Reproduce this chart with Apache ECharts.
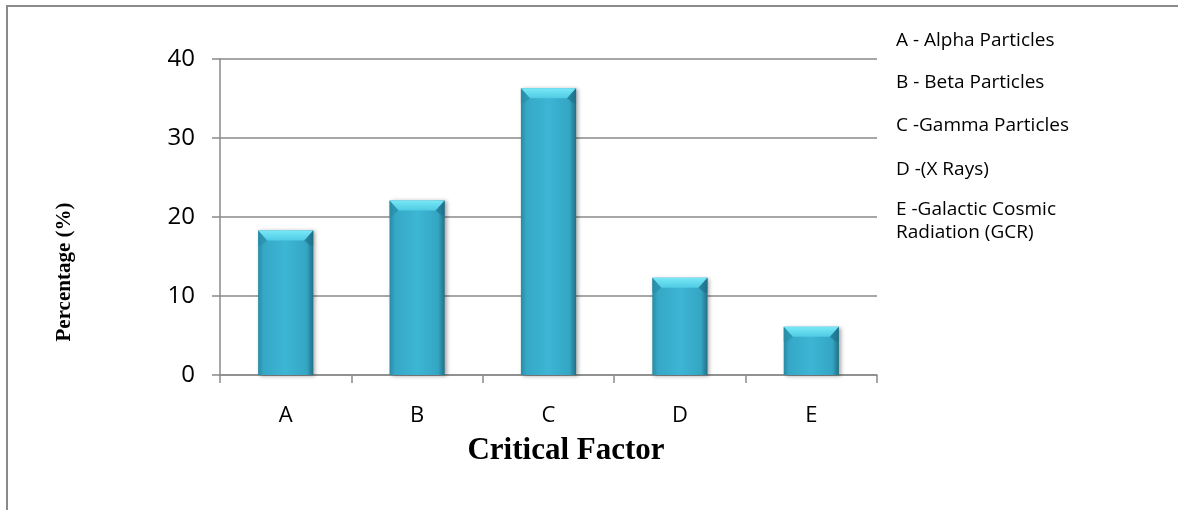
<!DOCTYPE html>
<html>
<head>
<meta charset="utf-8">
<script src="https://cdn.jsdelivr.net/npm/echarts@6/dist/echarts.min.js"></script>
<style>html,body{margin:0;padding:0;background:#fff}#c{width:1178px;height:510px}</style>
</head>
<body>
<div id="c"></div>
<script>
var categories = ['A', 'B', 'C', 'D', 'E'];
var values = [18.3, 22.1, 36.3, 12.3, 6.1];
var yTicks = [0, 10, 20, 30, 40];
var legendLines = ['A - Alpha Particles', 'B - Beta Particles', 'C -Gamma Particles', 'D -(X Rays)', 'E -Galactic Cosmic', 'Radiation (GCR)'];
var legendY = [41, 83, 126, 170, 210, 233];
var xTitle = 'Critical Factor';
var yTitle = 'Percentage (%)';

var chart = echarts.init(document.getElementById('c'), null, {renderer: 'canvas'});
var gray = '#8a8a8a';
var barFill = new echarts.graphic.LinearGradient(0, 0, 1, 0, [
  {offset: 0, color: '#2a8aa4'},
  {offset: 0.1, color: '#35a8c6'},
  {offset: 0.5, color: '#3db5d4'},
  {offset: 0.88, color: '#34a6c4'},
  {offset: 1, color: '#226f86'}
]);

var graphics = [
  {type: 'rect', shape: {x: 7, y: 6, width: 1400, height: 800}, style: {fill: 'none', stroke: gray, lineWidth: 2}, silent: true},
  {type: 'text', x: 65, y: 272, rotation: Math.PI / 2, style: {text: yTitle, font: 'bold 21px "Liberation Serif"', fill: '#000', textAlign: 'center', textVerticalAlign: 'middle'}},
  {type: 'text', x: 566, y: 451, style: {text: xTitle, font: 'bold 31px "Liberation Serif"', fill: '#000', textAlign: 'center', textVerticalAlign: 'middle'}}
];
legendLines.forEach(function (t, i) {
  graphics.push({type: 'text', x: 896, y: legendY[i], style: {text: t, font: '19px "Open Sans"', fill: '#000', textAlign: 'left', textVerticalAlign: 'middle'}});
});

chart.setOption({
  animation: false,
  grid: {left: 220, right: 301, top: 59, bottom: 135},
  graphic: graphics,
  xAxis: {
    type: 'category',
    data: categories,
    axisLine: {lineStyle: {color: gray, width: 1.5}},
    axisTick: {show: true, length: 8, lineStyle: {color: gray, width: 1.5}},
    axisLabel: {color: '#000', fontFamily: 'Open Sans', fontSize: 22, margin: 30}
  },
  yAxis: {
    type: 'value',
    min: yTicks[0],
    max: yTicks[yTicks.length - 1],
    interval: 10,
    axisLine: {show: true, lineStyle: {color: gray, width: 1.5}},
    axisTick: {show: true, length: 8, lineStyle: {color: gray, width: 1.5}},
    axisLabel: {color: '#000', fontFamily: 'Open Sans', fontSize: 24, margin: 25},
    splitLine: {lineStyle: {color: gray, width: 1.5}}
  },
  series: [
    {
      type: 'bar',
      data: values,
      barWidth: '42%',
      itemStyle: {color: barFill, shadowBlur: 4, shadowColor: 'rgba(0,0,0,0.35)', shadowOffsetX: 2, shadowOffsetY: 1},
      z: 2
    },
    {
      type: 'custom',
      data: values.map(function (v, i) { return [i, v]; }),
      z: 3,
      renderItem: function (params, api) {
        var top = api.coord([api.value(0), api.value(1)]);
        var w = api.size([1, 0])[0] * 0.42;
        var x0 = top[0] - w / 2, x1 = top[0] + w / 2, y0 = top[1];
        var inset = 9, h = 10;
        return {
          type: 'group',
          children: [
            {type: 'polygon', shape: {points: [[x0, y0], [x1, y0], [x1 - inset, y0 + h], [x0 + inset, y0 + h]]},
              style: {fill: new echarts.graphic.LinearGradient(0, 0, 0, 1, [{offset: 0, color: '#78e8f7'}, {offset: 1, color: '#4fcbe4'}])}},
            {type: 'polygon', shape: {points: [[x0, y0], [x0 + inset, y0 + h], [x0 + 3, y0 + h + 5], [x0, y0 + h + 5]]},
              style: {fill: 'rgba(40,140,165,0.6)'}},
            {type: 'polygon', shape: {points: [[x1, y0], [x1 - inset, y0 + h], [x1 - 3, y0 + h + 5], [x1, y0 + h + 5]]},
              style: {fill: 'rgba(30,110,135,0.6)'}}
          ]
        };
      }
    }
  ]
});
</script>
</body>
</html>
